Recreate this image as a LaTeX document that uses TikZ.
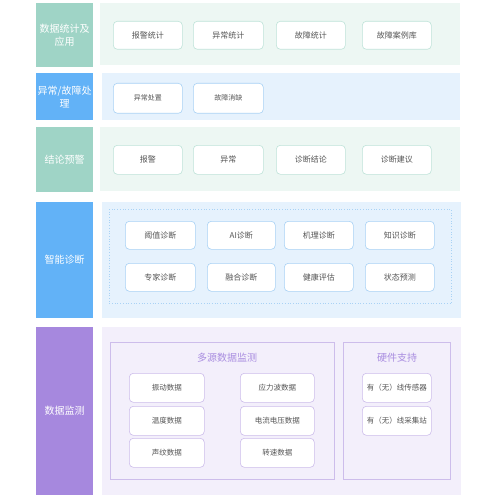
\documentclass[tikz,border=0pt]{standalone}
\usepackage{fontspec}
\setmainfont{Noto Sans CJK SC}
\definecolor{gL}{HTML}{9FD4C6}
\definecolor{gP}{HTML}{EDF7F3}
\definecolor{gB}{HTML}{BFE3D9}
\definecolor{bL}{HTML}{62B2F7}
\definecolor{bP}{HTML}{E6F2FD}
\definecolor{bB}{HTML}{A9D2F5}
\definecolor{pL}{HTML}{A688DE}
\definecolor{pP}{HTML}{F3EFFB}
\definecolor{pB}{HTML}{CDBDEB}
\definecolor{pT}{HTML}{A98DE0}
\definecolor{tx}{HTML}{555555}
\begin{document}
\begin{tikzpicture}[x=1pt,y=-1pt,
  lab/.style={anchor=north west,inner sep=0pt,text=white,align=center,font=\fontsize{10}{13}\selectfont},
  panel/.style={anchor=north west,inner sep=0pt,draw=none},
  item/.style={anchor=north west,inner sep=0pt,fill=white,rounded corners=4pt,line width=0.6pt,text=tx,font=\fontsize{8}{10}\selectfont},
  ttl/.style={text=pT,font=\fontsize{10}{12}\selectfont}]
\useasboundingbox (0,0) rectangle (500,500);
% row 1
\node[lab,fill=gL,minimum width=57pt,minimum height=64pt] (l1) at (36,3) {数据统计及\\应用};
\node[panel,fill=gP,minimum width=360pt,minimum height=62pt] (p1) at (100,3) {};
\node[item,draw=gB,minimum width=69pt,minimum height=28pt] (a1) at (113,21) {报警统计};
\node[item,draw=gB,minimum width=70pt,minimum height=28pt] (a2) at (193,21) {异常统计};
\node[item,draw=gB,minimum width=69pt,minimum height=28pt] (a3) at (276,21) {故障统计};
\node[item,draw=gB,minimum width=69pt,minimum height=28pt] (a4) at (362,21) {故障案例库};
% row 2
\node[lab,fill=bL,minimum width=57pt,minimum height=47pt] (l2) at (36,73) {异常/故障处\\理};
\node[panel,fill=bP,minimum width=358pt,minimum height=47pt] (p2) at (102,73) {};
\node[item,draw=bB,minimum width=69pt,minimum height=30pt,font=\fontsize{7}{9}\selectfont] (b1) at (113,83) {异常处置};
\node[item,draw=bB,minimum width=70pt,minimum height=30pt,font=\fontsize{7}{9}\selectfont] (b2) at (193,83) {故障消缺};
% row 3
\node[lab,fill=gL,minimum width=57pt,minimum height=65pt] (l3) at (36,127) {结论预警};
\node[panel,fill=gP,minimum width=360pt,minimum height=64pt] (p3) at (100,127) {};
\node[item,draw=gB,minimum width=69pt,minimum height=29pt] (c1) at (113,145) {报警};
\node[item,draw=gB,minimum width=70pt,minimum height=29pt] (c2) at (193,145) {异常};
\node[item,draw=gB,minimum width=69pt,minimum height=29pt] (c3) at (276,145) {诊断结论};
\node[item,draw=gB,minimum width=69pt,minimum height=29pt] (c4) at (362,145) {诊断建议};
% row 4
\node[lab,fill=bL,minimum width=57pt,minimum height=116pt] (l4) at (36,202) {智能诊断};
\node[panel,fill=bP,minimum width=359pt,minimum height=116pt] (p4) at (102,202) {};
\node[panel,draw=bB,dotted,line width=0.7pt,minimum width=342pt,minimum height=94pt] (d4) at (109,209) {};
\node[item,draw=bB,minimum width=70pt,minimum height=28pt] (e1) at (125,221) {阈值诊断};
\node[item,draw=bB,minimum width=68pt,minimum height=28pt] (e2) at (207,221) {AI诊断};
\node[item,draw=bB,minimum width=69pt,minimum height=28pt] (e3) at (284,221) {机理诊断};
\node[item,draw=bB,minimum width=69pt,minimum height=28pt] (e4) at (365,221) {知识诊断};
\node[item,draw=bB,minimum width=70pt,minimum height=28pt] (e5) at (125,263) {专家诊断};
\node[item,draw=bB,minimum width=68pt,minimum height=28pt] (e6) at (207,263) {融合诊断};
\node[item,draw=bB,minimum width=69pt,minimum height=28pt] (e7) at (284,263) {健康评估};
\node[item,draw=bB,minimum width=69pt,minimum height=28pt] (e8) at (365,263) {状态预测};
% row 5
\node[lab,fill=pL,minimum width=57pt,minimum height=168pt] (l5) at (36,327) {数据监测};
\node[panel,fill=pP,minimum width=359pt,minimum height=168pt] (p5) at (102,327) {};
\node[panel,draw=pB,line width=0.6pt,minimum width=224pt,minimum height=137pt] (m1) at (110,342) {};
\node[panel,draw=pB,line width=0.6pt,minimum width=107pt,minimum height=137pt] (m2) at (343,342) {};
\node[ttl] (t1) at (227,358) {多源数据监测};
\node[ttl] (t2) at (397,358) {硬件支持};
\node[item,draw=pB,minimum width=75pt,minimum height=29pt,font=\fontsize{7.5}{9}\selectfont] (f1) at (129,373) {振动数据};
\node[item,draw=pB,minimum width=75pt,minimum height=29pt,font=\fontsize{7.5}{9}\selectfont] (f2) at (129,406) {温度数据};
\node[item,draw=pB,minimum width=75pt,minimum height=29pt,font=\fontsize{7.5}{9}\selectfont] (f3) at (129,438) {声纹数据};
\node[item,draw=pB,minimum width=74pt,minimum height=29pt,font=\fontsize{7.5}{9}\selectfont] (g1) at (240,373) {应力波数据};
\node[item,draw=pB,minimum width=74pt,minimum height=29pt,font=\fontsize{7.5}{9}\selectfont] (g2) at (240,406) {电流电压数据};
\node[item,draw=pB,minimum width=74pt,minimum height=29pt,font=\fontsize{7.5}{9}\selectfont] (g3) at (240,438) {转速数据};
\node[item,draw=pB,minimum width=69pt,minimum height=29pt,font=\fontsize{7.5}{9}\selectfont] (h1) at (362,373) {有（无）线传感器};
\node[item,draw=pB,minimum width=69pt,minimum height=29pt,font=\fontsize{7.5}{9}\selectfont] (h2) at (362,406) {有（无）线采集站};
\end{tikzpicture}
\end{document}
